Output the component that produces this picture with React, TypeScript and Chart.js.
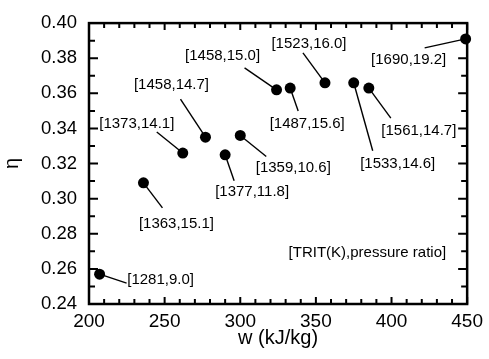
import React, { useEffect, useRef } from "react";
import { Chart, registerables } from "chart.js";

Chart.register(...registerables);

// ---- data ----
const workValues = [207, 236, 262, 277, 290, 300, 324, 333, 356, 375, 385, 449];
const etaValues = [0.257, 0.309, 0.326, 0.335, 0.325, 0.336, 0.362, 0.363, 0.366, 0.366, 0.363, 0.391];
const tritValues = [1281, 1363, 1373, 1458, 1377, 1359, 1458, 1487, 1523, 1533, 1561, 1690];
const pressureRatios = ["9.0", "15.1", "14.1", "14.7", "11.8", "10.6", "15.0", "15.6", "16.0", "14.6", "14.7", "19.2"];
const xTickValues = [200, 250, 300, 350, 400, 450];
const yTickValues = [0.24, 0.26, 0.28, 0.3, 0.32, 0.34, 0.36, 0.38, 0.4];
const xTitle = "w (kJ/kg)";
const yTitle = "η";
const noteText = "[TRIT(K),pressure ratio]";

// ---- annotation layout (pixel offsets from each point) ----
const labelOffsets: [number, number][] = [
  [61, 6], [33, 41], [-46, -29], [-34, -52], [27, 37], [53, 32],
  [-54, -34], [17, 36], [-16, -39], [44, 81], [50, 43], [-57, 21],
];
const leaderEnds: [number, number][] = [
  [27, 9], [19, 25], [-26, -21], [-25, -38], [9, 26], [26, 21],
  [-32, -22], [8, 23], [-22, -30], [19, 68], [22, 30], [-41, 9],
];

const FONT = "'Liberation Sans', Arial, Helvetica, sans-serif";

const pointLabels = tritValues.map((t, i) => `[${t},${pressureRatios[i]}]`);

const framePlugin = {
  id: "frameAndTicks",
  beforeDatasetsDraw(chart: any) {
    const ctx = chart.ctx;
    const meta = chart.getDatasetMeta(0);
    ctx.save();
    ctx.strokeStyle = "#000";
    ctx.lineWidth = 1.4;
    meta.data.forEach((pt: any, i: number) => {
      const [dx, dy] = leaderEnds[i];
      ctx.beginPath();
      ctx.moveTo(pt.x, pt.y);
      ctx.lineTo(pt.x + dx, pt.y + dy);
      ctx.stroke();
    });
    ctx.restore();
  },
  afterDatasetsDraw(chart: any) {
    const ctx = chart.ctx;
    const { left, right, top, bottom } = chart.chartArea;
    const xs = chart.scales.x;
    const ys = chart.scales.y;
    ctx.save();
    ctx.strokeStyle = "#000";
    ctx.lineWidth = 2;
    for (let v = xs.min; v <= xs.max + 1e-9; v += 10) {
      const px = xs.getPixelForValue(v);
      const major = Math.abs(v % 50) < 1e-6;
      const len = major ? 7 : 5;
      ctx.beginPath();
      ctx.moveTo(px, bottom);
      ctx.lineTo(px, bottom - len);
      ctx.moveTo(px, top);
      ctx.lineTo(px, top + len);
      ctx.stroke();
    }
    for (let k = 0; k <= 16; k++) {
      const v = ys.min + k * 0.01;
      const py = ys.getPixelForValue(v);
      const len = k % 2 === 0 ? 9 : 6;
      ctx.beginPath();
      ctx.moveTo(left, py);
      ctx.lineTo(left + len, py);
      ctx.moveTo(right, py);
      ctx.lineTo(right - len, py);
      ctx.stroke();
    }
    ctx.lineWidth = 2.5;
    ctx.strokeRect(left, top, right - left, bottom - top);

    const meta = chart.getDatasetMeta(0);
    ctx.fillStyle = "#000";
    ctx.font = `15px ${FONT}`;
    ctx.textAlign = "center";
    ctx.textBaseline = "middle";
    meta.data.forEach((pt: any, i: number) => {
      const [dx, dy] = labelOffsets[i];
      ctx.fillText(pointLabels[i], pt.x + dx, pt.y + dy);
    });
    ctx.textAlign = "right";
    ctx.fillText(noteText, right - 21, bottom - 51);
    ctx.restore();
  },
};

export default function App() {
  const canvasRef = useRef<HTMLCanvasElement | null>(null);

  useEffect(() => {
    const canvas = canvasRef.current;
    if (!canvas) return;
    const chart = new Chart(canvas, {
      type: "scatter",
      data: {
        datasets: [
          {
            data: workValues.map((w, i) => ({ x: w, y: etaValues[i] })),
            backgroundColor: "#000",
            borderColor: "#000",
            pointRadius: 5.5,
            borderWidth: 0,
            clip: false,
          },
        ],
      },
      options: {
        responsive: false,
        animation: false,
        events: [],
        layout: { padding: { top: 14, right: 17, left: 0, bottom: 0 } },
        plugins: {
          legend: { display: false },
          tooltip: { enabled: false },
        },
        scales: {
          x: {
            type: "linear",
            min: 200,
            max: 450,
            grid: { display: false, drawTicks: false },
            border: { display: false },
            afterBuildTicks: (scale: any) => {
              scale.ticks = xTickValues.map((v) => ({ value: v }));
            },
            afterFit: (scale: any) => {
              scale.height = 55;
            },
            ticks: {
              color: "#000",
              padding: 6,
              font: { family: FONT, size: 19 },
              callback: (v: any) => String(v),
            },
            title: {
              display: true,
              text: xTitle,
              color: "#000",
              font: { family: FONT, size: 20 },
              padding: { top: 0, bottom: 9 },
            },
          },
          y: {
            type: "linear",
            min: 0.24,
            max: 0.4,
            grid: { display: false, drawTicks: false },
            border: { display: false },
            afterBuildTicks: (scale: any) => {
              scale.ticks = yTickValues.map((v) => ({ value: v }));
            },
            afterFit: (scale: any) => {
              scale.width = 89;
            },
            ticks: {
              color: "#000",
              padding: 12,
              font: { family: FONT, size: 18.5 },
              callback: (v: any) => Number(v).toFixed(2),
            },
            title: {
              display: true,
              text: yTitle,
              color: "#000",
              font: { family: FONT, size: 20 },
              padding: { top: 0, bottom: 0 },
            },
          },
        },
      },
      plugins: [framePlugin],
    } as any);
    return () => chart.destroy();
  }, []);

  return (
    <div style={{ position: "absolute", left: 0, top: 0, width: 489, height: 359, background: "#fff" }}>
      <canvas ref={canvasRef} width={489} height={359} style={{ display: "block" }} />
    </div>
  );
}
